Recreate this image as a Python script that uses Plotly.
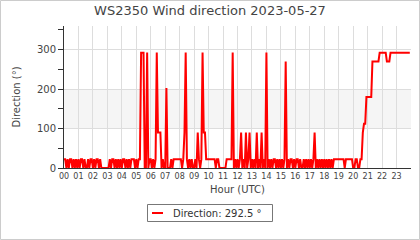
import plotly.graph_objects as go

# ---- data (5-minute samples, wind direction in degrees) ----
hour_labels = ["00", "01", "02", "03", "04", "05", "06", "07", "08", "09", "10", "11",
               "12", "13", "14", "15", "16", "17", "18", "19", "20", "21", "22", "23"]
sample_minutes = 5
direction = [
    22.5, 22.5, 0, 22.5, 0, 22.5, 22.5, 0, 22.5, 0, 22.5, 0,            # 00
    22.5, 0, 22.5, 22.5, 0, 22.5, 0, 0, 22.5, 0, 22.5, 22.5,            # 01
    0, 22.5, 0, 22.5, 22.5, 0, 22.5, 0, 0, 0, 0, 0,                     # 02
    0, 0, 22.5, 0, 22.5, 22.5, 0, 22.5, 0, 22.5, 0, 22.5,               # 03
    0, 22.5, 22.5, 0, 22.5, 0, 22.5, 0, 22.5, 22.5, 22.5, 0,            # 04
    22.5, 0, 22.5, 22.5, 292.5, 292.5, 292.5, 0, 0, 292.5, 0, 22.5,     # 05
    22.5, 0, 22.5, 0, 22.5, 292.5, 90, 90, 90, 0, 22.5, 0,              # 06
    0, 202.5, 0, 0, 0, 22.5, 0, 22.5, 22.5, 22.5, 22.5, 22.5,           # 07
    22.5, 22.5, 0, 22.5, 90, 292.5, 22.5, 0, 22.5, 0, 22.5, 0,          # 08
    0, 22.5, 0, 90, 22.5, 0, 22.5, 292.5, 90, 90, 22.5, 22.5,           # 09
    22.5, 22.5, 22.5, 22.5, 22.5, 22.5, 0, 22.5, 22.5, 0, 0, 0,         # 10
    0, 0, 0, 22.5, 22.5, 22.5, 22.5, 22.5, 292.5, 0, 22.5, 0,           # 11
    22.5, 0, 22.5, 90, 0, 22.5, 0, 90, 0, 22.5, 90, 0,                  # 12
    22.5, 0, 22.5, 0, 90, 0, 22.5, 0, 90, 0, 22.5, 0,                   # 13
    292.5, 0, 22.5, 0, 22.5, 0, 22.5, 22.5, 0, 22.5, 0, 22.5,           # 14
    0, 22.5, 0, 22.5, 270, 0, 22.5, 0, 22.5, 22.5, 0, 22.5,             # 15
    0, 22.5, 22.5, 0, 22.5, 0, 0, 22.5, 0, 22.5, 0, 22.5,               # 16
    0, 22.5, 0, 22.5, 90, 0, 22.5, 0, 22.5, 0, 22.5, 0,                 # 17
    22.5, 0, 22.5, 0, 22.5, 0, 22.5, 0, 22.5, 22.5, 22.5, 22.5,         # 18
    22.5, 22.5, 22.5, 22.5, 22.5, 0, 22.5, 22.5, 22.5, 22.5, 22.5, 22.5,  # 19
    0, 0, 22.5, 22.5, 0, 0, 22.5, 22.5, 90, 112.5, 112.5, 180,          # 20
    180, 180, 180, 180, 270, 270, 270, 270, 270, 270, 292.5, 292.5,     # 21
    292.5, 292.5, 292.5, 292.5, 270, 270, 270, 292.5, 292.5, 292.5, 292.5, 292.5,  # 22
    292.5, 292.5, 292.5, 292.5, 292.5, 292.5, 292.5, 292.5, 292.5, 292.5, 292.5, 292.5,  # 23
]
time_h = [i * sample_minutes / 60 for i in range(len(direction))]
band = (100, 200)

# ---- geometry ----
W, H = 420, 240
ML, MR, MT, MB = 64, 9, 26, 72
PW, PH = W - ML - MR, H - MT - MB


def px(x):
    return (x - ML) / PW


def py(y):
    return (MT + PH - y) / PH


TXT = "#444444"
FONT = "DejaVu Sans"

fig = go.Figure()
fig.add_trace(go.Scatter(
    x=time_h, y=direction, mode="lines",
    line=dict(color="#ff0000", width=2),
    showlegend=False, hoverinfo="skip",
))

shapes = [
    dict(type="rect", xref="paper", yref="y", x0=0, x1=1, y0=band[0], y1=band[1],
         fillcolor="#f5f5f5", line=dict(width=0), layer="below"),
    dict(type="rect", xref="paper", yref="paper", x0=px(0.5), x1=px(419.5),
         y0=py(0.5), y1=py(239.5), line=dict(color="#cccccc", width=1)),
    dict(type="rect", xref="paper", yref="paper", x0=px(147.5), x1=px(272.5),
         y0=py(204.5), y1=py(221.5), line=dict(color="#777777", width=1),
         fillcolor="white"),
    dict(type="line", xref="paper", yref="paper", x0=px(152), x1=px(163),
         y0=py(213), y1=py(213), line=dict(color="#ff0000", width=2)),
]

fig.update_layout(
    width=W, height=H,
    margin=dict(l=ML, r=MR, t=MT, b=MB, pad=0),
    paper_bgcolor="white", plot_bgcolor="white",
    font=dict(family=FONT, color=TXT),
    title=dict(text="WS2350 Wind direction 2023-05-27", x=0.5, xref="container",
               xanchor="center", y=1 - 5.5 / H, yref="container", yanchor="top",
               font=dict(family=FONT, size=13, color=TXT)),
    shapes=shapes,
    annotations=[dict(
        xref="paper", yref="paper", x=px(171), y=py(213),
        xanchor="left", yanchor="middle", showarrow=False,
        text=f"Direction: {direction[-1]} °",
        font=dict(family=FONT, size=10, color="#333333"),
    )],
    showlegend=False,
)

fig.update_xaxes(
    range=[0, 24], tickmode="array", tickvals=list(range(24)), ticktext=hour_labels,
    showgrid=True, gridcolor="#dddddd", gridwidth=1,
    showline=True, linecolor="#333333", linewidth=1,
    ticks="", tickfont=dict(size=8, color=TXT), zeroline=False,
    title=dict(text="Hour (UTC)", font=dict(size=10, color=TXT), standoff=6),
)
fig.update_yaxes(
    range=[0, 360], tickmode="array", tickvals=[0, 100, 200, 300],
    showgrid=True, gridcolor="#dddddd", gridwidth=1,
    showline=True, linecolor="#333333", linewidth=1,
    ticks="outside", ticklen=5, tickcolor="#333333",
    minor=dict(tickmode="array", tickvals=[50, 150, 250, 350], ticks="outside",
               ticklen=5, tickcolor="#333333", showgrid=False),
    tickfont=dict(size=10, color=TXT), zeroline=False,
    title=dict(text="Direction (°)", font=dict(size=10, color=TXT), standoff=14),
)

fig.write_html("out.html")
